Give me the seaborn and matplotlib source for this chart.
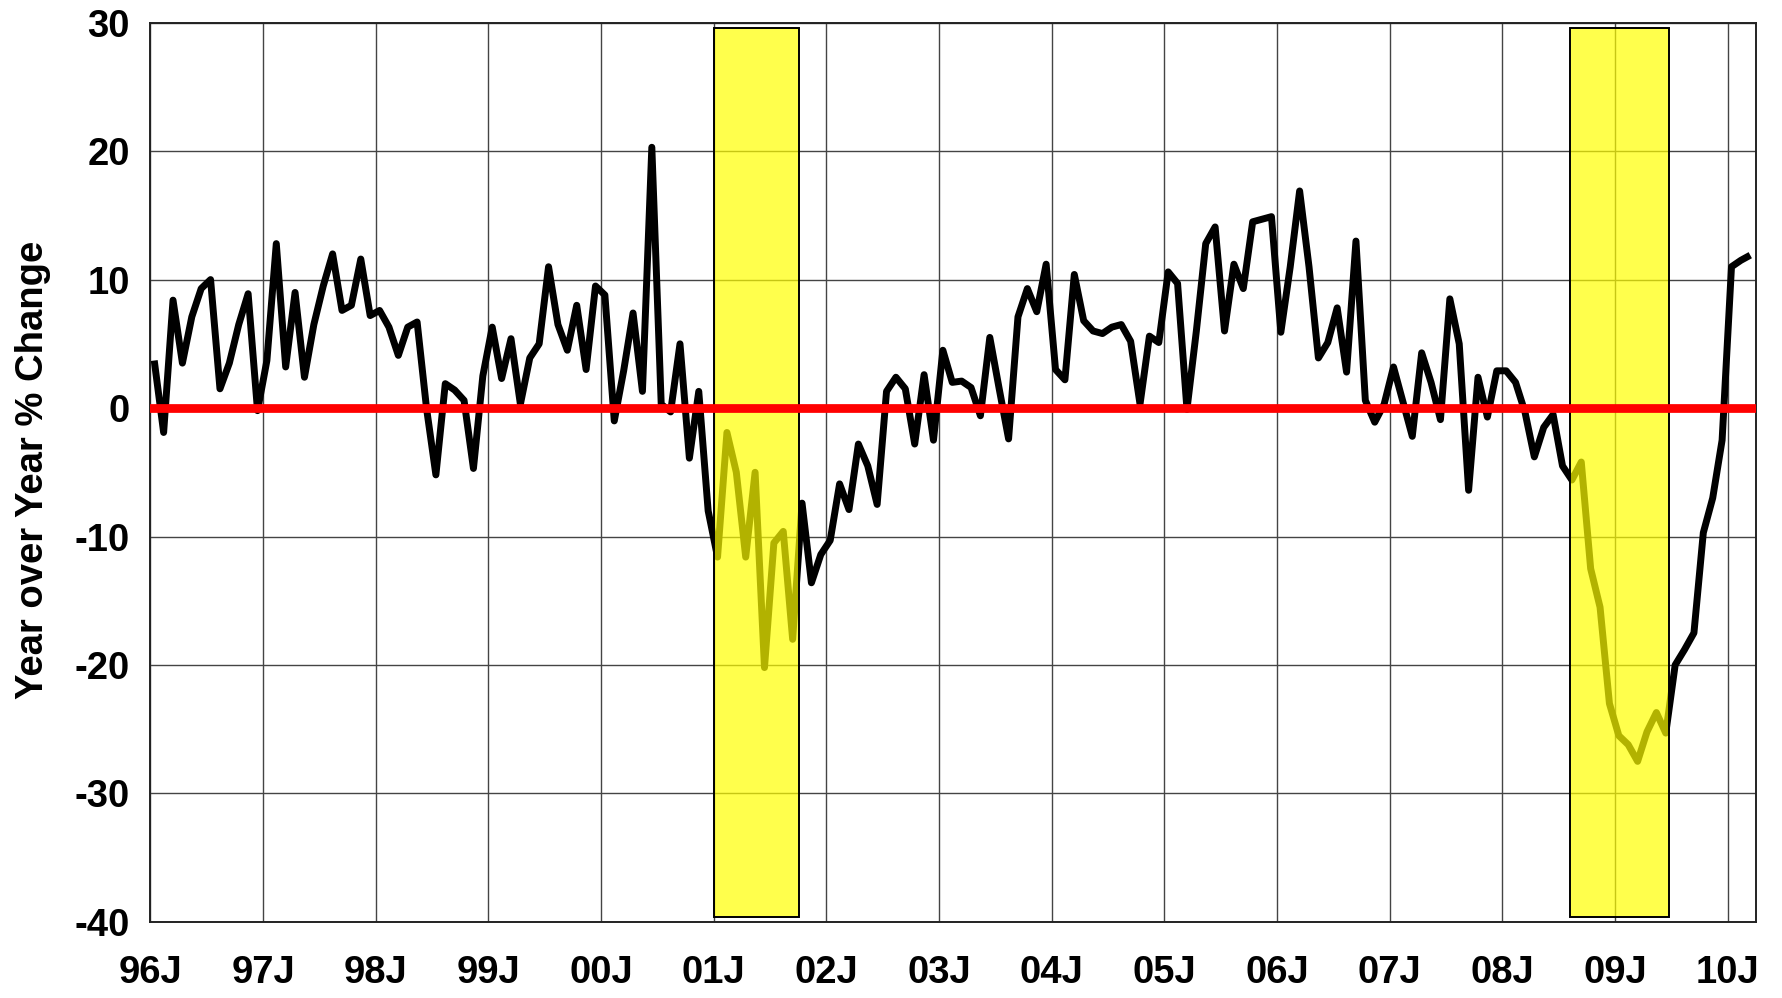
import numpy as np
import pandas as pd
import matplotlib
matplotlib.use("Agg")
import matplotlib.pyplot as plt
import seaborn as sns
from matplotlib.patches import Rectangle

# ==========================
# Data (monthly, Jan 1996 - Mar 2010), year over year % change
# ==========================
start_year = 1996
yoy_change = [
    3.7, -1.9, 8.4, 3.5, 7.1, 9.3, 10.0, 1.5, 3.5, 6.5, 8.9, -0.2,        # 1996
    3.7, 12.8, 3.2, 9.0, 2.4, 6.5, 9.5, 12.0, 7.6, 8.0, 11.6, 7.2,        # 1997
    7.6, 6.3, 4.1, 6.3, 6.7, 0.0, -5.2, 1.9, 1.4, 0.6, -4.7, 2.5,         # 1998
    6.3, 2.3, 5.4, 0.3, 3.9, 5.0, 11.0, 6.5, 4.5, 8.0, 3.0, 9.5,          # 1999
    8.8, -1.0, 2.9, 7.4, 1.3, 20.3, 0.3, -0.3, 5.0, -3.9, 1.3, -8.0,      # 2000
    -11.6, -1.9, -5.0, -11.6, -5.0, -20.2, -10.5, -9.6, -18.0, -7.4, -13.6, -11.4,  # 2001
    -10.3, -5.9, -7.9, -2.8, -4.5, -7.5, 1.3, 2.4, 1.5, -2.8, 2.6, -2.5,  # 2002
    4.5, 2.0, 2.1, 1.6, -0.6, 5.5, 1.5, -2.4, 7.1, 9.3, 7.5, 11.2,        # 2003
    3.0, 2.2, 10.4, 6.8, 6.0, 5.8, 6.3, 6.5, 5.2, 0.3, 5.6, 5.1,          # 2004
    10.6, 9.7, -0.1, 6.0, 12.8, 14.1, 6.0, 11.2, 9.3, 14.5, 14.7, 14.9,   # 2005
    5.9, 11.0, 16.9, 11.0, 3.9, 5.1, 7.8, 2.8, 13.0, 0.6, -1.1, 0.3,      # 2006
    3.2, 0.5, -2.2, 4.3, 2.0, -0.9, 8.5, 5.0, -6.4, 2.4, -0.7, 2.9,       # 2007
    2.9, 2.0, -0.3, -3.8, -1.5, -0.5, -4.5, -5.6, -4.2, -12.5, -15.5, -23.0,  # 2008
    -25.5, -26.2, -27.5, -25.2, -23.7, -25.3, -20.0, -18.8, -17.5, -9.7, -7.0, -2.5,  # 2009
    11.0, 11.5, 11.9,                                                     # 2010
]

# shaded recession periods (decimal years)
recession_start = [2001.0, 2008.6]
recession_end = [2001.76, 2009.48]

tick_years = list(range(1996, 2011))
tick_labels = ["96J", "97J", "98J", "99J", "00J", "01J", "02J", "03J",
               "04J", "05J", "06J", "07J", "08J", "09J", "10J"]
y_ticks = [-40, -30, -20, -10, 0, 10, 20, 30]

df = pd.DataFrame({
    "date": start_year + (np.arange(len(yoy_change)) + 0.4) / 12,
    "yoy": yoy_change,
})

# ==========================
# Plot
# ==========================
sns.set_style("white")
plt.rcParams["font.family"] = ["Liberation Sans", "DejaVu Sans"]
plt.rcParams["font.weight"] = "bold"
plt.rcParams["text.color"] = "black"
plt.rcParams["axes.labelcolor"] = "black"
plt.rcParams["xtick.color"] = "black"
plt.rcParams["ytick.color"] = "black"

fig = plt.figure(figsize=(17.83, 9.98), dpi=100)
ax = fig.add_axes([0.0844, 0.0762, 0.9004, 0.9011])

sns.lineplot(data=df, x="date", y="yoy", ax=ax, color="black", linewidth=5.0,
             zorder=2, solid_joinstyle="round", solid_capstyle="butt")

for x0, x1 in zip(recession_start, recession_end):
    ax.add_patch(Rectangle((x0, -39.6), x1 - x0, 69.2, facecolor=(1, 1, 0, 0.7),
                           edgecolor="black", linewidth=1.4, zorder=3))

ax.axhline(0, color="#ff0000", linewidth=6.3, zorder=4)

ax.set_xlim(1996, 2010.25)
ax.set_ylim(-40, 30)
ax.set_xticks(tick_years)
ax.set_xticklabels(tick_labels)
ax.set_yticks(y_ticks)
ax.set_yticklabels([str(v) for v in y_ticks])

ax.grid(True, color="#444444", linewidth=1.0, zorder=0)
ax.set_axisbelow(True)
for s in ax.spines.values():
    s.set_color("#222222")
    s.set_linewidth(1.4)

ax.tick_params(axis="x", length=0, pad=24, labelsize=27.5, labelcolor="black")
ax.tick_params(axis="y", length=8, width=1.2, color="#555555", pad=7,
               labelsize=27.5, labelcolor="black", direction="out")
for lab in ax.get_xticklabels() + ax.get_yticklabels():
    lab.set_fontweight("bold")

ax.set_xlabel("")
ax.set_ylabel("Year over Year % Change", fontsize=27.5, fontweight="bold",
              color="black", va="center")
ax.yaxis.set_label_coords(-0.073, 0.503)

fig.savefig("out.png", dpi=100)
plt.close()
